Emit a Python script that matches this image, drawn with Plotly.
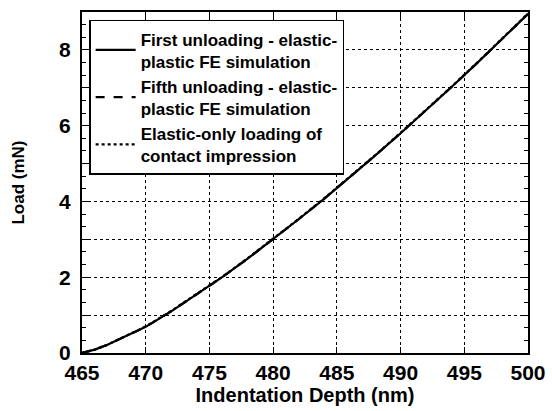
import plotly.graph_objects as go

depth_nm = [465, 466, 467, 468, 470, 472, 474, 476, 478, 480, 482, 484, 486, 488, 490, 492, 494, 496, 498, 500]
load_first = [0.0, 0.09, 0.22, 0.38, 0.69, 1.10, 1.54, 2.00, 2.49, 3.00, 3.53, 4.07, 4.63, 5.21, 5.80, 6.40, 7.02, 7.65, 8.30, 8.95]
load_fifth = [0.0, 0.09, 0.22, 0.38, 0.69, 1.10, 1.54, 2.00, 2.49, 3.00, 3.53, 4.07, 4.63, 5.21, 5.80, 6.40, 7.02, 7.65, 8.30, 8.95]
load_elastic = [0.0, 0.09, 0.22, 0.38, 0.70, 1.11, 1.55, 2.01, 2.50, 3.01, 3.54, 4.08, 4.64, 5.22, 5.81, 6.41, 7.03, 7.66, 8.31, 8.96]

names = [
    "First unloading - elastic-<br>plastic FE simulation",
    "Fifth unloading - elastic-<br>plastic FE simulation",
    "Elastic-only loading of<br>contact impression",
]
y_tickvals = [0, 1, 2, 3, 4, 5, 6, 7, 8]
y_ticktext = ["0", "", "2", "", "4", "", "6", "", "8"]
x_tickvals = [465, 470, 475, 480, 485, 490, 495, 500]

fig = go.Figure()
for y, nm, dash in zip([load_first, load_fifth, load_elastic], names, ["solid", "dash", "dot"]):
    fig.add_trace(go.Scatter(x=depth_nm, y=y, mode="lines", name=nm,
                             line=dict(color="black", width=2.2, dash=dash)))

font = "Liberation Sans, Arial, Helvetica, sans-serif"
fig.update_layout(
    width=552, height=411,
    margin=dict(l=82, r=24, t=12, b=58),
    plot_bgcolor="white", paper_bgcolor="white",
    font=dict(family=font, color="black"),
    legend=dict(x=0.016, y=0.977, xanchor="left", yanchor="top",
                bordercolor="black", borderwidth=1.5, bgcolor="white",
                font=dict(size=17, family=font, weight="bold"), tracegroupgap=0,
                itemwidth=40),
    showlegend=True,
)
fig.update_xaxes(
    range=[465, 500], tickmode="array", tickvals=x_tickvals, automargin=False,
    showline=True, linecolor="black", linewidth=2, mirror="ticks",
    ticks="inside", ticklen=6, tickcolor="black", ticklabelstandoff=0,
    showgrid=True, gridcolor="black", griddash="dot", gridwidth=1,
    tickfont=dict(size=21, weight="bold"), zeroline=False,
    title=dict(text="Indentation Depth (nm)", font=dict(size=20, weight="bold"), standoff=4),
)
fig.update_yaxes(
    range=[0, 9], tickmode="array", tickvals=y_tickvals, ticktext=y_ticktext,
    automargin=False,
    showline=True, linecolor="black", linewidth=2, mirror="ticks",
    ticks="inside", ticklen=7, tickcolor="black", ticklabelstandoff=5,
    showgrid=True, gridcolor="black", griddash="dot", gridwidth=1,
    zeroline=False,
    minor=dict(dtick=1/3, tick0=0, ticks="inside", ticklen=4, tickcolor="black",
               showgrid=False),
    tickfont=dict(size=21, weight="bold"),
    title=dict(text="Load (mN)", font=dict(size=17, weight="bold"), standoff=30),
)

fig.write_html("out.html")
